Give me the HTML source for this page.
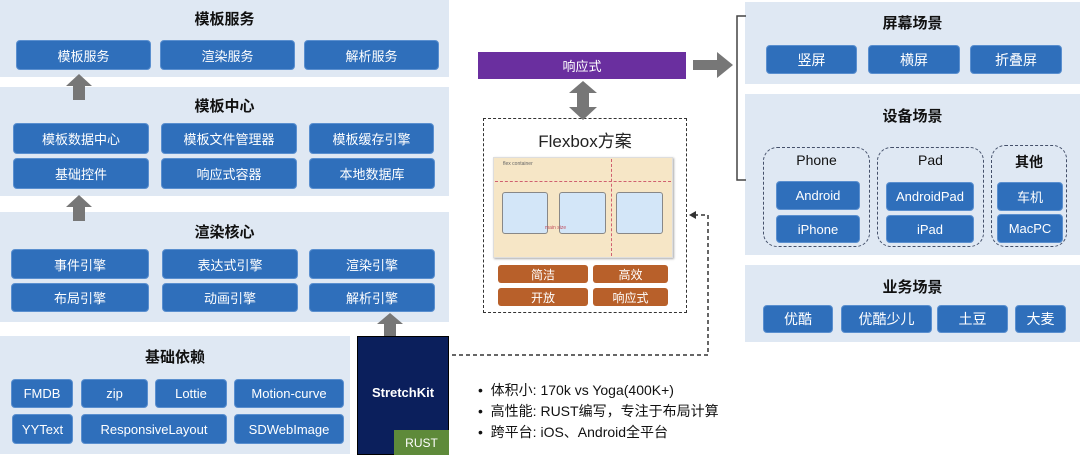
<!DOCTYPE html>
<html><head><meta charset="utf-8"><style>
*{margin:0;padding:0;box-sizing:border-box}
body{width:1080px;height:472px;background:#fff;position:relative;overflow:hidden;font-family:"Liberation Sans","Noto Sans CJK SC",sans-serif}
.p{position:absolute;background:#dfe8f3}
.b{position:absolute;background:#2f6fbb;color:#fff;border-radius:4px;font-size:13px;display:flex;align-items:center;justify-content:center;border:1px solid #5a8fcf}
.t{position:absolute;font-weight:bold;font-size:15px;color:#111;text-align:center}
.o{position:absolute;background:#b8602a;color:#fff;border-radius:3px;font-size:12px;display:flex;align-items:center;justify-content:center}
.g{position:absolute;border:1.5px dashed #44506a;border-radius:14px}
.s{position:absolute;font-size:13px;color:#111;text-align:center}
</style></head><body>
<!-- left panels -->
<div class="p" style="left:0;top:0;width:449px;height:77px"></div>
<div class="t" style="left:0;top:8px;width:449px">模板服务</div>
<div class="b" style="left:16px;top:40px;width:135px;height:30px">模板服务</div>
<div class="b" style="left:160px;top:40px;width:135px;height:30px">渲染服务</div>
<div class="b" style="left:304px;top:40px;width:135px;height:30px">解析服务</div>

<div class="p" style="left:0;top:87px;width:449px;height:109px"></div>
<div class="t" style="left:0;top:95px;width:449px">模板中心</div>
<div class="b" style="left:13px;top:123px;width:136px;height:31px">模板数据中心</div>
<div class="b" style="left:161px;top:123px;width:136px;height:31px">模板文件管理器</div>
<div class="b" style="left:309px;top:123px;width:125px;height:31px">模板缓存引擎</div>
<div class="b" style="left:13px;top:158px;width:136px;height:31px">基础控件</div>
<div class="b" style="left:161px;top:158px;width:136px;height:31px">响应式容器</div>
<div class="b" style="left:309px;top:158px;width:126px;height:31px">本地数据库</div>

<div class="p" style="left:0;top:212px;width:449px;height:110px"></div>
<div class="t" style="left:0;top:221px;width:449px">渲染核心</div>
<div class="b" style="left:11px;top:249px;width:138px;height:30px">事件引擎</div>
<div class="b" style="left:162px;top:249px;width:136px;height:30px">表达式引擎</div>
<div class="b" style="left:309px;top:249px;width:126px;height:30px">渲染引擎</div>
<div class="b" style="left:11px;top:283px;width:138px;height:29px">布局引擎</div>
<div class="b" style="left:162px;top:283px;width:136px;height:29px">动画引擎</div>
<div class="b" style="left:309px;top:283px;width:126px;height:29px">解析引擎</div>

<div class="p" style="left:0;top:336px;width:350px;height:118px"></div>
<div class="t" style="left:0;top:346px;width:350px">基础依赖</div>
<div class="b" style="left:11px;top:379px;width:62px;height:29px">FMDB</div>
<div class="b" style="left:81px;top:379px;width:67px;height:29px">zip</div>
<div class="b" style="left:155px;top:379px;width:72px;height:29px">Lottie</div>
<div class="b" style="left:234px;top:379px;width:110px;height:29px">Motion-curve</div>
<div class="b" style="left:12px;top:414px;width:61px;height:30px">YYText</div>
<div class="b" style="left:81px;top:414px;width:146px;height:30px">ResponsiveLayout</div>
<div class="b" style="left:234px;top:414px;width:110px;height:30px">SDWebImage</div>

<div style="position:absolute;left:357px;top:336px;width:92px;height:119px;background:#0b1f5c;border:1px solid #000"></div>
<div style="position:absolute;left:357px;top:385px;width:92px;color:#fff;font-weight:bold;font-size:13px;text-align:center">StretchKit</div>
<div style="position:absolute;left:394px;top:430px;width:55px;height:25px;background:#5e8a3a;color:#fff;font-size:12px;display:flex;align-items:center;justify-content:center">RUST</div>

<!-- right panels -->
<div class="p" style="left:745px;top:2px;width:335px;height:82px"></div>
<div class="t" style="left:745px;top:12px;width:335px">屏幕场景</div>
<div class="b" style="left:766px;top:45px;width:91px;height:29px;font-size:14px">竖屏</div>
<div class="b" style="left:868px;top:45px;width:92px;height:29px;font-size:14px">横屏</div>
<div class="b" style="left:970px;top:45px;width:92px;height:29px;font-size:14px">折叠屏</div>

<div class="p" style="left:745px;top:94px;width:335px;height:161px"></div>
<div class="t" style="left:745px;top:105px;width:335px">设备场景</div>
<div class="g" style="left:763px;top:147px;width:107px;height:100px"></div>
<div class="g" style="left:877px;top:147px;width:107px;height:100px"></div>
<div class="g" style="left:991px;top:145px;width:76px;height:102px"></div>
<div class="s" style="left:763px;top:152px;width:107px;font-size:14px">Phone</div>
<div class="s" style="left:877px;top:152px;width:107px;font-size:14px">Pad</div>
<div class="s" style="left:991px;top:152px;width:76px;font-size:14px;font-weight:bold">其他</div>
<div class="b" style="left:776px;top:181px;width:84px;height:29px">Android</div>
<div class="b" style="left:776px;top:215px;width:84px;height:28px">iPhone</div>
<div class="b" style="left:886px;top:182px;width:88px;height:29px">AndroidPad</div>
<div class="b" style="left:886px;top:215px;width:88px;height:28px">iPad</div>
<div class="b" style="left:997px;top:182px;width:66px;height:29px">车机</div>
<div class="b" style="left:997px;top:214px;width:66px;height:29px">MacPC</div>

<div class="p" style="left:745px;top:265px;width:335px;height:77px"></div>
<div class="t" style="left:745px;top:276px;width:335px">业务场景</div>
<div class="b" style="left:763px;top:305px;width:70px;height:28px;font-size:14px">优酷</div>
<div class="b" style="left:841px;top:305px;width:91px;height:28px;font-size:14px">优酷少儿</div>
<div class="b" style="left:937px;top:305px;width:71px;height:28px;font-size:14px">土豆</div>
<div class="b" style="left:1015px;top:305px;width:51px;height:28px;font-size:14px">大麦</div>

<!-- middle -->
<div style="position:absolute;left:478px;top:52px;width:208px;height:27px;background:#6a2f9f;color:#fff;font-size:13px;display:flex;align-items:center;justify-content:center">响应式</div>
<div style="position:absolute;left:483px;top:118px;width:204px;height:195px;border:1.5px dashed #333"></div>
<div style="position:absolute;left:483px;top:127px;width:204px;text-align:center;font-size:17px;color:#222">Flexbox方案</div>
<div style="position:absolute;left:493px;top:157px;width:180px;height:101px;background:#f6e6c6;border:1px solid #ddd;box-shadow:1px 1px 2px #aaa"></div>
<div style="position:absolute;left:502px;top:192px;width:46px;height:42px;background:#d3e6f8;border:1px solid #888;border-radius:3px"></div>
<div style="position:absolute;left:559px;top:192px;width:47px;height:42px;background:#d3e6f8;border:1px solid #888;border-radius:3px"></div>
<div style="position:absolute;left:616px;top:192px;width:47px;height:42px;background:#d3e6f8;border:1px solid #888;border-radius:3px"></div>
<div style="position:absolute;left:495px;top:181px;width:176px;border-top:1px dashed #d06070"></div>
<div style="position:absolute;left:611px;top:159px;height:97px;border-left:1px dashed #d06070"></div>
<div style="position:absolute;left:503px;top:161px;font-size:5px;color:#666">flex container</div>
<div style="position:absolute;left:545px;top:225px;font-size:5px;color:#c05060">main size</div>
<div class="o" style="left:498px;top:265px;width:90px;height:18px">简洁</div>
<div class="o" style="left:593px;top:265px;width:75px;height:18px">高效</div>
<div class="o" style="left:498px;top:288px;width:90px;height:18px">开放</div>
<div class="o" style="left:593px;top:288px;width:75px;height:18px">响应式</div>

<svg style="position:absolute;left:0;top:0" width="1080" height="472">
<g fill="#777">
<polygon points="66,86 79,74 92,86 85,86 85,100 73,100 73,86"/>
<polygon points="66,207 79,195 92,207 85,207 85,221 73,221 73,207"/>
<polygon points="377,324 390,313 403,324 396,324 396,336 384,336 384,324"/>
<polygon points="693,60 717,60 717,52 733,65 717,78 717,70 693,70"/>
<polygon points="583,81 597,93 589,93 589,107 597,107 583,120 569,107 577,107 577,93 569,93"/>
</g>
<polyline points="737,16 745,16 M737,16" fill="none"/>
<path d="M746,16 H737 V180 H746" fill="none" stroke="#444" stroke-width="1.5"/>
<path d="M452,355 H708 V215 H694" fill="none" stroke="#333" stroke-width="1.5" stroke-dasharray="4,3"/>
<polygon points="689,215 696,211 696,219" fill="#333"/>
</svg>

<div style="position:absolute;left:478px;top:380px;font-size:14px;line-height:21px;color:#111">
<div>•&nbsp; 体积小: 170k vs Yoga(400K+)</div>
<div>•&nbsp; 高性能: RUST编写，专注于布局计算</div>
<div>•&nbsp; 跨平台: iOS、Android全平台</div>
</div>
</body></html>
